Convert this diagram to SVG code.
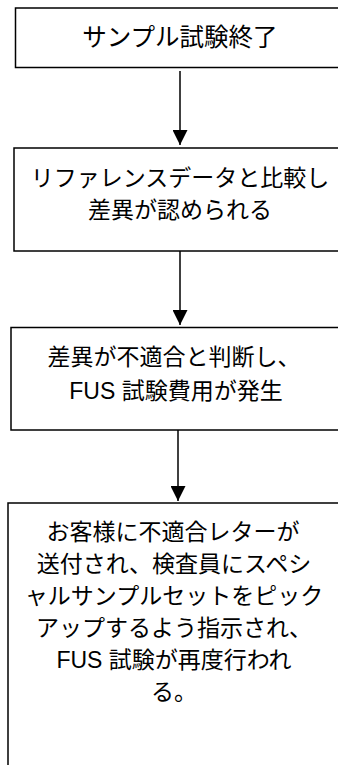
<svg xmlns="http://www.w3.org/2000/svg" width="338" height="765" viewBox="0 0 338 765">
<style>
.box{fill:#fff;stroke:#000;stroke-width:1.5}
.t{font-family:"Liberation Sans","Noto Sans CJK JP",sans-serif;font-size:23px;fill:#000;text-anchor:middle}
.big{font-size:24.5px}
.c{stroke:#000;stroke-width:1.5;fill:none}
</style>
<defs>
<marker id="ah" viewBox="0 0 10 10" refX="10" refY="5" markerUnits="userSpaceOnUse" markerWidth="16" markerHeight="15" orient="auto">
<path d="M0,0 L10,5 L0,10 Z" fill="#000"/>
</marker>
</defs>
<rect width="338" height="765" fill="#fff"/>
<g id="connectors">
<line class="c" x1="180" y1="71" x2="180" y2="145" marker-end="url(#ah)"/>
<line class="c" x1="180" y1="251" x2="180" y2="325" marker-end="url(#ah)"/>
<line class="c" x1="178" y1="430" x2="178" y2="501" marker-end="url(#ah)"/>
</g>
<g id="n1">
<rect class="box" x="15.5" y="8" width="330" height="59.5"/>
<text class="t big" x="180" y="46">サンプル試験終了</text>
</g>
<g id="n2">
<rect class="box" x="14" y="148" width="332" height="103"/>
<text class="t" x="180" y="186">リファレンスデータと比較し</text>
<text class="t" x="180" y="218">差異が認められる</text>
</g>
<g id="n3">
<rect class="box" x="11" y="327.5" width="330" height="102.5"/>
<text class="t" x="174" y="365">差異が不適合と判断し、</text>
<text class="t" x="176" y="399">FUS 試験費用が発生</text>
</g>
<g id="n4">
<rect class="box" x="8" y="503" width="332" height="280"/>
<text class="t" x="173" y="540">お客様に不適合レターが</text>
<text class="t" x="174" y="572">送付され、検査員にスペシ</text>
<text class="t" x="174" y="604">ャルサンプルセットをピック</text>
<text class="t" x="174" y="636">アップするよう指示され、</text>
<text class="t" x="174" y="668">FUS 試験が再度行われ</text>
<text class="t" x="174" y="700">る。</text>
</g>
</svg>
